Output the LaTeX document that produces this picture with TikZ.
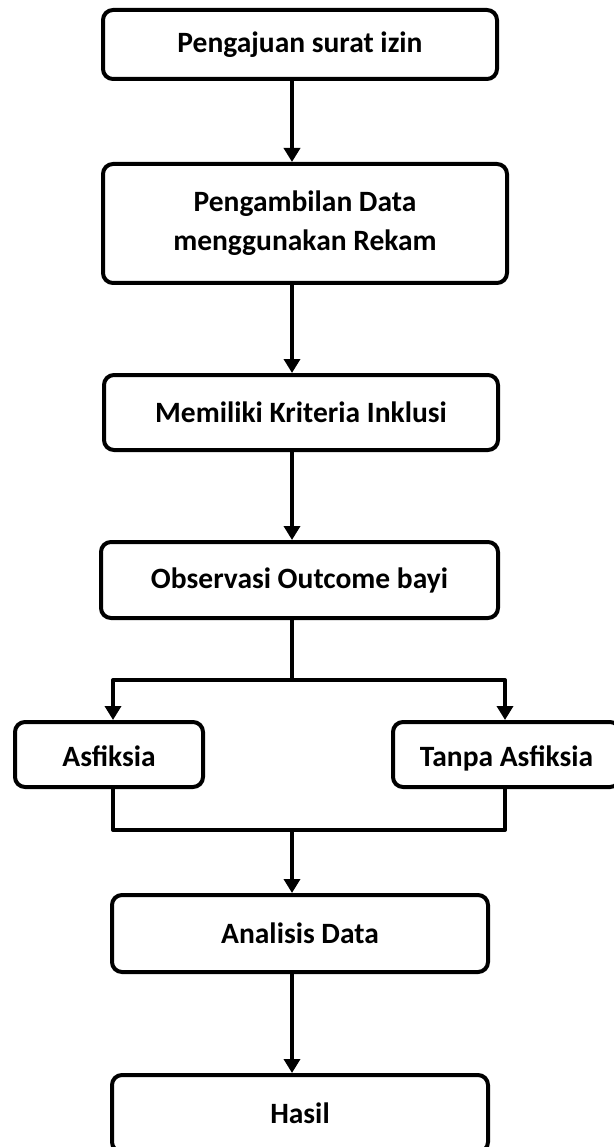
\documentclass[tikz,border=0pt]{standalone}
\usepackage{fontspec}
\setmainfont{Carlito}
\usetikzlibrary{arrows.meta}
\begin{document}
\begin{tikzpicture}[x=1pt,y=-1pt,
  box/.style={draw=black, line width=4pt, rounded corners=10pt, align=center,
    inner sep=0pt, font=\fontsize{29.5}{39}\selectfont\bfseries, text=black},
  oneline/.style={text height=24pt, text depth=1pt},
  conn/.style={draw=black, line width=4pt, line join=round},
  arr/.style={conn, -{Triangle[length=14pt,width=16pt]}},
  arrboth/.style={conn, {Triangle[length=14pt,width=16pt]}-{Triangle[length=14pt,width=16pt]}}]
\useasboundingbox (0,0) rectangle (613,1147);
\fill[white] (0,0) rectangle (613,1147);

\node[box, minimum width=394pt, minimum height=69pt] (b1) at (300,44.5) {Pengajuan surat izin};
\node[box, minimum width=404pt, minimum height=119pt] (b2) at (305,223.5) {Pengambilan Data\\menggunakan Rekam};
\node[box, minimum width=394pt, minimum height=75pt] (b3) at (301,412.5) {Memiliki Kriteria Inklusi};
\node[box, minimum width=397pt, minimum height=76pt] (b4) at (299.5,580) {Observasi Outcome bayi};
\node[box, oneline, minimum width=188pt, minimum height=65pt] (asf) at (109,754.5) {Asfiksia};
\node[box, oneline, minimum width=227pt, minimum height=65pt] (tanpa) at (506.5,754.5) {Tanpa Asfiksia};
\node[box, minimum width=376pt, minimum height=77pt] (ana) at (300,933.5) {Analisis Data};
\node[box, minimum width=376pt, minimum height=77pt] (has) at (300,1113.5) {Hasil};

\coordinate (sp) at (292,0);
\coordinate (jt) at (292,680);
\coordinate (jl) at (113,680);
\coordinate (jr) at (505,680);
\coordinate (bl) at (113,830);
\coordinate (br) at (505,830);
\coordinate (bm) at (292,830);

\draw[arr] (b1.south -| sp) -- (b2.north -| sp);
\draw[arr] (b2.south -| sp) -- (b3.north -| sp);
\draw[arr] (b3.south -| sp) -- (b4.north -| sp);
\draw[conn] (b4.south -| jt) -- (jt);
\draw[arrboth] (asf.north -| jl) -- (jl) -- (jr) -- (tanpa.north -| jr);
\draw[conn] (asf.south -| bl) -- (bl) -- (br) -- (tanpa.south -| br);
\draw[arr] (bm) -- (ana.north -| bm);
\draw[arr] (ana.south -| sp) -- (has.north -| sp);
\end{tikzpicture}
\end{document}
